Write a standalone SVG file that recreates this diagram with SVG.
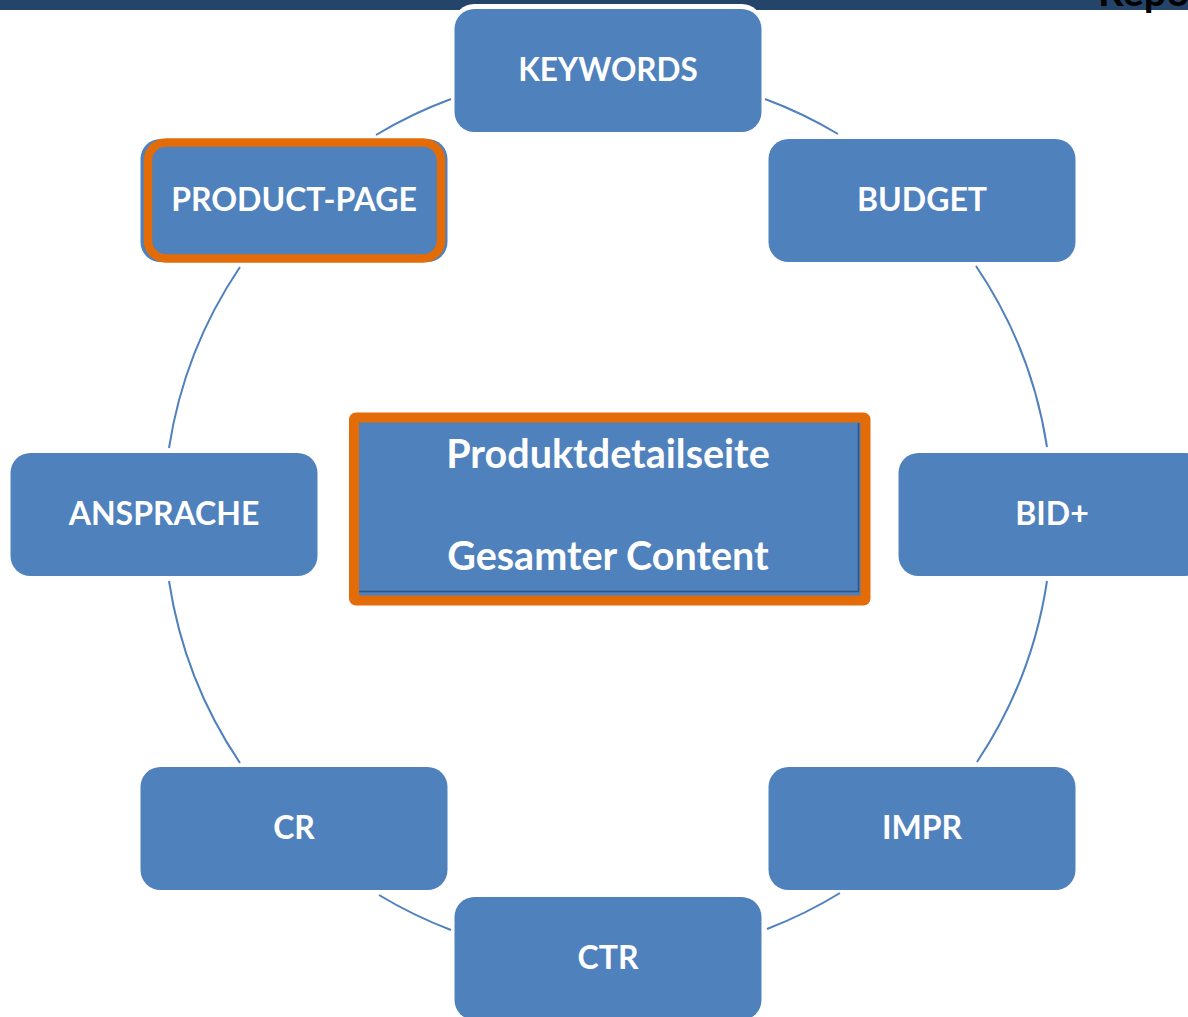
<svg xmlns="http://www.w3.org/2000/svg" width="1188" height="1017" viewBox="0 0 1188 1017">
<style>
.n{fill:#4f81bd}
.t{font-family:"Lato","Carlito","Liberation Sans",sans-serif;font-weight:700;font-size:32px;fill:#fff;text-anchor:middle}
.b{font-size:39.500px}
.c{fill:none;stroke:#4f81bd;stroke-width:2}
</style>
<rect width="1188" height="1017" fill="#fff"/>
<rect id="header-bar" x="0" y="0" width="1188" height="10" fill="#254469"/>
<text id="header-text" x="1098" y="6" font-family="Lato,Carlito,sans-serif" font-weight="700" font-size="40" fill="#000">Repo</text>
<g id="connectors">
<path class="c" d="M765 99A444 444 0 0 1 838 134"/>
<path class="c" d="M976 266A444 444 0 0 1 1047 447"/>
<path class="c" d="M1047 581A444 444 0 0 1 977 762"/>
<path class="c" d="M840 893A444 444 0 0 1 767 929"/>
<path class="c" d="M451 930A444 444 0 0 1 379 895"/>
<path class="c" d="M240 763A444 444 0 0 1 169 581"/>
<path class="c" d="M169 448A444 444 0 0 1 240 267"/>
<path class="c" d="M376 135A444 444 0 0 1 451 99"/>
</g>
<g id="keywords">
<rect x="454" y="4" width="308" height="60" rx="20" fill="#fff"/>
<rect class="n" x="454.500" y="9" width="307" height="123" rx="20"/>
<text class="t" x="608" y="81" style="font-size:31.500px">KEYWORDS</text>
</g>
<g id="budget">
<rect class="n" x="768.500" y="139" width="307" height="123" rx="20"/>
<text class="t" x="922" y="211">BUDGET</text>
</g>
<g id="bid">
<rect class="n" x="898.500" y="453" width="307" height="123" rx="20"/>
<text class="t" x="1052" y="525">BID+</text>
</g>
<g id="impr">
<rect class="n" x="768.500" y="767" width="307" height="123" rx="20"/>
<text class="t" x="922" y="839">IMPR</text>
</g>
<g id="ctr">
<rect class="n" x="454.500" y="897" width="307" height="123" rx="20"/>
<text class="t" x="608" y="969">CTR</text>
</g>
<g id="cr">
<rect class="n" x="140.500" y="767" width="307" height="123" rx="20"/>
<text class="t" x="294" y="839">CR</text>
</g>
<g id="ansprache">
<rect class="n" x="10.500" y="453" width="307" height="123" rx="20"/>
<text class="t" x="164" y="525">ANSPRACHE</text>
</g>
<g id="product-page">
<rect class="n" x="140.500" y="139" width="307" height="123" rx="20"/>
<rect x="148" y="142.500" width="293" height="116" rx="18" fill="#4f81bd" stroke="#e36c09" stroke-width="8.500"/>
<text class="t" x="294" y="211">PRODUCT-PAGE</text>
</g>
<g id="center">
<rect x="354" y="417.500" width="511.500" height="183" rx="2" fill="#4f81bd" stroke="#e36c09" stroke-width="10" stroke-linejoin="round"/>
<path d="M359 591.500H858.500V423" fill="none" stroke="#2f5482" stroke-width="1.500"/>
<text class="t b" x="608" y="468">Produktdetailseite</text>
<text class="t b" x="608" y="570">Gesamter Content</text>
</g>
</svg>
